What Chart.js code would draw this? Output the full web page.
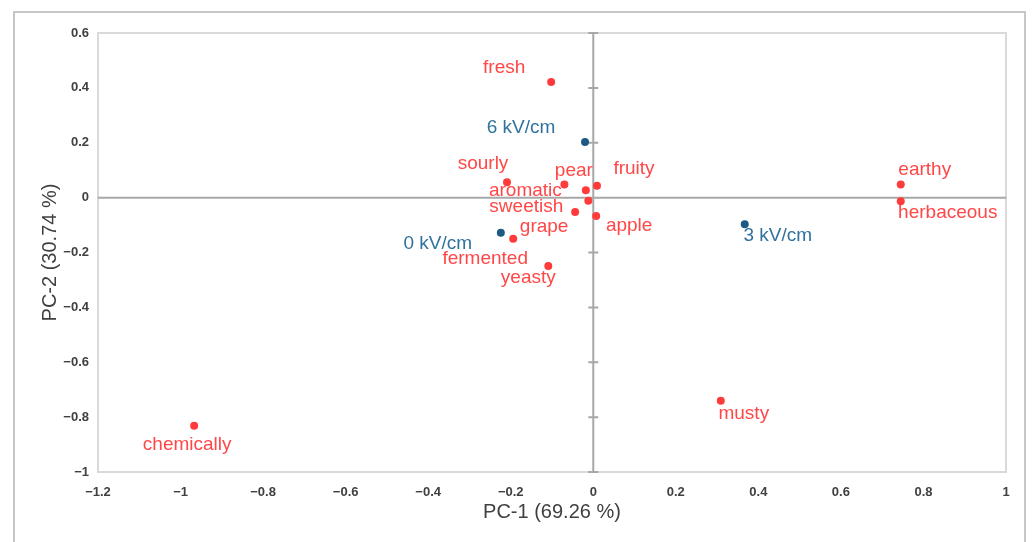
<!DOCTYPE html>
<html>
<head>
<meta charset="utf-8">
<script src="https://cdn.jsdelivr.net/npm/chart.js@4.4.1/dist/chart.umd.min.js"></script>
<style>
  html, body { margin: 0; padding: 0; background: #ffffff; }
  #wrap { width: 1032px; height: 542px; }
</style>
</head>
<body>
<div id="wrap"><canvas id="pca" width="1032" height="542"></canvas></div>
<script>
// Sensory attributes (loadings) on PC-1 / PC-2
const attrNames = ['fresh', 'sourly', 'aromatic', 'pear', 'fruity', 'sweetish', 'grape', 'apple',
                   'fermented', 'yeasty', 'earthy', 'herbaceous', 'musty', 'chemically'];
const attrX = [-0.102, -0.209, -0.070, -0.018, 0.009, -0.012, -0.044, 0.007,
               -0.194, -0.109, 0.745, 0.745, 0.309, -0.967];
const attrY = [0.421, 0.056, 0.048, 0.027, 0.043, -0.011, -0.052, -0.067,
               -0.150, -0.249, 0.048, -0.013, -0.740, -0.831];

// Electric field treatments (scores)
const treatNames = ['6 kV/cm', '0 kV/cm', '3 kV/cm'];
const treatX = [-0.020, -0.224, 0.367];
const treatY = [0.203, -0.128, -0.097];

// Axis ticks
const xTickValues = [-1.2, -1, -0.8, -0.6, -0.4, -0.2, 0, 0.2, 0.4, 0.6, 0.8, 1];
const yTickValues = [-1, -0.8, -0.6, -0.4, -0.2, 0, 0.2, 0.4, 0.6];

const xTitle = 'PC-1 (69.26 %)';
const yTitle = 'PC-2 (30.74 %)';

// Where each text label sits relative to its marker (pixels: centre x, baseline y)
const labelOffsets = {
  'fresh': [-47, -9], 'sourly': [-24, -13], 'aromatic': [-39, 12], 'pear': [-12, -14],
  'fruity': [37, -12], 'sweetish': [-62, 11], 'grape': [-31, 20], 'apple': [33, 15],
  'fermented': [-28, 25], 'yeasty': [-20, 17], 'earthy': [24, -9], 'herbaceous': [47, 17],
  'musty': [23, 18], 'chemically': [-7, 24],
  '6 kV/cm': [-64, -9], '0 kV/cm': [-63, 16], '3 kV/cm': [33, 17]
};

const RED = '#ff3b3b';
const RED_TEXT = '#ff4747';
const BLUE = '#1d5b86';
const BLUE_TEXT = '#30729d';
const FONT = '"Liberation Sans", Arial, sans-serif';

const fmt = v => (v === 0 ? '0' : String(v).replace('-', '\u2212'));

const framePlugin = {
  id: 'frame',
  beforeDraw(chart) {
    const ctx = chart.ctx;
    ctx.save();
    ctx.strokeStyle = '#c6c6c6';
    ctx.lineWidth = 2;
    ctx.strokeRect(14, 12, 1011, 560);
    const a = chart.chartArea;
    ctx.strokeStyle = '#d9d9d9';
    ctx.lineWidth = 2;
    ctx.strokeRect(a.left, a.top, a.right - a.left, a.bottom - a.top);
    ctx.restore();
  },
  beforeDatasetsDraw(chart) {
    const ctx = chart.ctx;
    const xs = chart.scales.x, ys = chart.scales.y;
    const a = chart.chartArea;
    const x0 = xs.getPixelForValue(0);
    const y0 = ys.getPixelForValue(0);
    ctx.save();
    ctx.strokeStyle = '#a8a8a8';
    ctx.lineWidth = 2;
    ctx.beginPath();
    ctx.moveTo(a.left, y0); ctx.lineTo(a.right, y0);
    ctx.moveTo(x0, a.top); ctx.lineTo(x0, a.bottom);
    yTickValues.forEach(v => {
      const py = ys.getPixelForValue(v);
      ctx.moveTo(x0 - 5, py); ctx.lineTo(x0 + 5, py);
    });
    ctx.stroke();
    ctx.restore();
  },
  afterDatasetsDraw(chart) {
    const ctx = chart.ctx;
    ctx.save();
    ctx.font = '19px ' + FONT;
    ctx.textAlign = 'center';
    ctx.textBaseline = 'alphabetic';
    chart.data.datasets.forEach((ds, i) => {
      const meta = chart.getDatasetMeta(i);
      ctx.fillStyle = ds.labelColor;
      meta.data.forEach((pt, j) => {
        const name = ds.names[j];
        const off = labelOffsets[name] || [0, -10];
        ctx.fillText(name, pt.x + off[0], pt.y + off[1]);
      });
    });
    ctx.restore();
  }
};

new Chart(document.getElementById('pca'), {
  type: 'scatter',
  data: {
    datasets: [
      {
        label: 'Attributes',
        names: attrNames,
        labelColor: RED_TEXT,
        data: attrX.map((x, i) => ({ x: x, y: attrY[i] })),
        backgroundColor: RED,
        borderWidth: 0,
        pointRadius: 4
      },
      {
        label: 'Treatments',
        names: treatNames,
        labelColor: BLUE_TEXT,
        data: treatX.map((x, i) => ({ x: x, y: treatY[i] })),
        backgroundColor: BLUE,
        borderWidth: 0,
        pointRadius: 4
      }
    ]
  },
  options: {
    responsive: false,
    animation: false,
    devicePixelRatio: 1,
    layout: { padding: { left: 0, top: 33, right: 26, bottom: 0 } },
    plugins: { legend: { display: false }, tooltip: { enabled: false } },
    scales: {
      x: {
        type: 'linear',
        min: -1.2,
        max: 1,
        afterBuildTicks: s => { s.ticks = xTickValues.map(v => ({ value: v })); },
        afterFit: s => { s.height = 70; },
        grid: { display: false, drawTicks: false },
        border: { display: false },
        ticks: {
          padding: 13,
          maxRotation: 0,
          autoSkip: false,
          color: '#404040',
          font: { family: FONT, size: 13, weight: 'bold' },
          callback: v => fmt(v)
        },
        title: {
          display: true,
          text: xTitle,
          color: '#404040',
          font: { family: FONT, size: 20 },
          padding: { top: 0, bottom: 18 }
        }
      },
      y: {
        type: 'linear',
        min: -1,
        max: 0.6,
        afterBuildTicks: s => { s.ticks = yTickValues.map(v => ({ value: v })); },
        afterFit: s => { s.width = 98; },
        grid: { display: false, drawTicks: false },
        border: { display: false },
        ticks: {
          padding: 9,
          autoSkip: false,
          color: '#404040',
          font: { family: FONT, size: 13, weight: 'bold' },
          callback: v => fmt(v)
        },
        title: {
          display: true,
          text: yTitle,
          color: '#404040',
          font: { family: FONT, size: 20 },
          padding: { top: 38, bottom: 0 }
        }
      }
    }
  },
  plugins: [framePlugin]
});
</script>
</body>
</html>
